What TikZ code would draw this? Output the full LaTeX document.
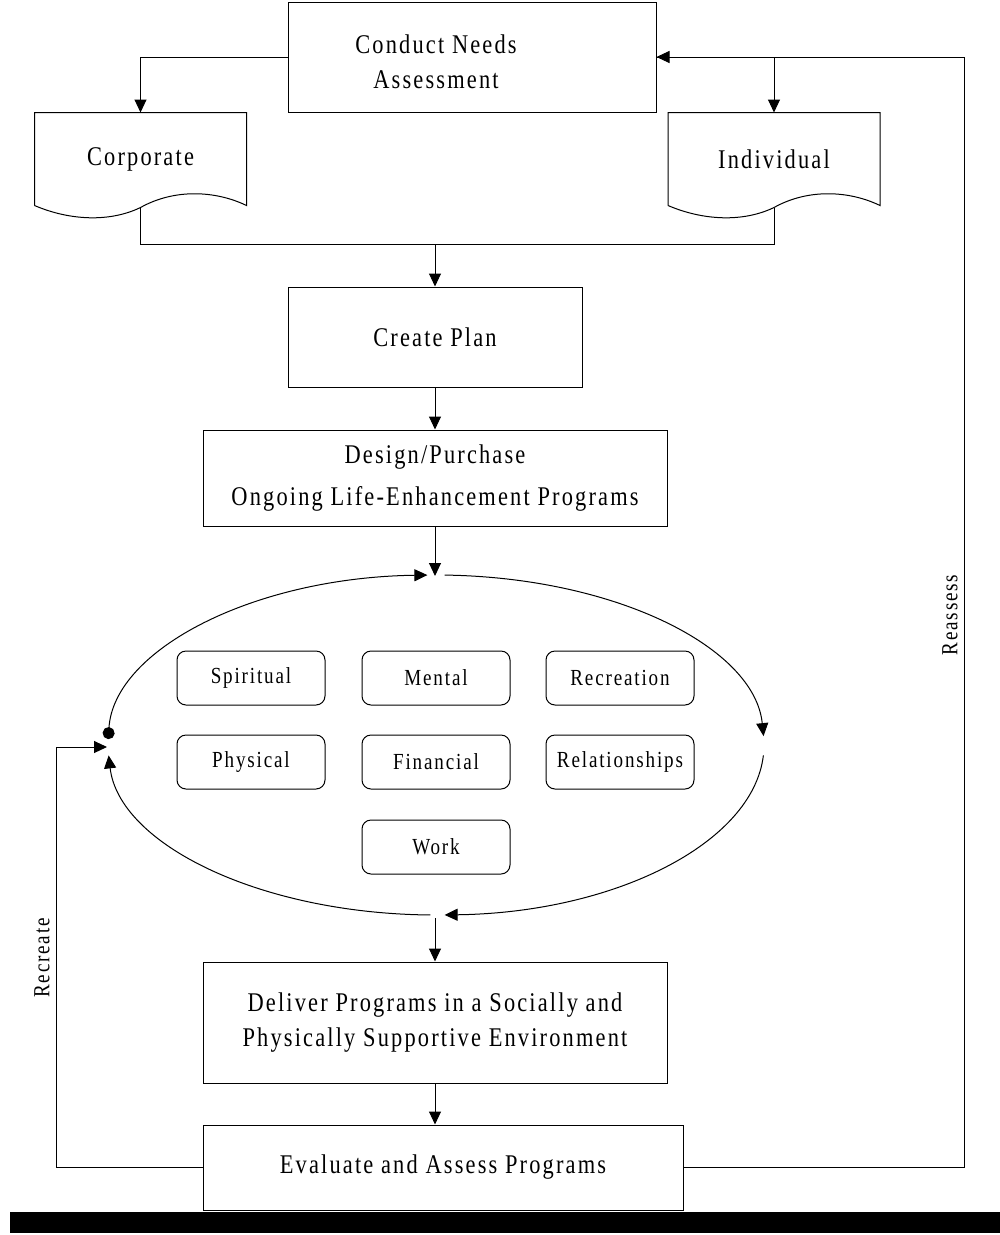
\documentclass[tikz,border=0pt]{standalone}
\usepackage{fontspec}
\setmainfont{Liberation Serif}[FakeStretch=0.83,LetterSpace=8]
\usetikzlibrary{arrows.meta,calc}

\tikzset{
  >={Triangle[length=13pt,width=12pt]},
  stagebox/.style={draw, rectangle, align=center, inner sep=0pt},
  areabox/.style={draw, rounded corners=9pt, minimum width=148pt, minimum height=54pt, inner sep=0pt, font=\fontsize{23}{28}\selectfont},
  docbox/.style={minimum width=211pt, minimum height=92pt, inner sep=0pt},
  sidelabel/.style={rotate=90, font=\fontsize{23}{28}\selectfont},
  flow/.style={->},
}

% document symbol drawn round a (borderless) node
\newcommand{\docshape}[1]{%
  \draw (#1.south west) -- (#1.north west) -- (#1.north east) -- (#1.south east)
    .. controls +(-31,-15) and +(34,-19) .. ($(#1.south)+(0,2)$)
    .. controls +(-31,15) and +(35,15) .. (#1.south west);}

\begin{document}
\begin{tikzpicture}[x=1pt,y=-1pt,line width=1pt,font=\fontsize{27}{35}\selectfont]
	\useasboundingbox (0,0) rectangle (1000,1235);

	% assessment
	\node[stagebox, minimum width=368pt, minimum height=110pt] (conduct) at (472,57) {};
	\node[align=center, inner sep=0pt] (conducttxt) at (436,62) {Conduct Needs\\Assessment};
	\node[docbox] (corp) at (140.5,159) {Corporate};
	\node[docbox] (indiv) at (774,159) {Individual};
	\docshape{corp}
	\docshape{indiv}
	\coordinate (corpout) at ($(corp.south)+(0,2)$);
	\coordinate (indivout) at ($(indiv.south)+(0,2)$);
	\coordinate (merge) at (435,244);

	\node[stagebox, minimum width=294pt, minimum height=100pt] (plan) at (435,337) {Create Plan};
	\node[stagebox, minimum width=464pt, minimum height=96pt, font=\fontsize{27}{42}\selectfont] (design) at (435,478) {Design/Purchase\\Ongoing Life-Enhancement Programs};

	% program ring
	\coordinate (ring) at (436,745);
	\coordinate (ringtop) at (435,576);
	\coordinate (ringbot) at (435,918);
	\node[areabox] (spiritual) at (251,678) {Spiritual};
	\node[areabox] (mental) at (436,678) {Mental};
	\node[areabox] (recreation) at (620,678) {Recreation};
	\node[areabox] (physical) at (251,762) {Physical};
	\node[areabox] (financial) at (436,762) {Financial};
	\node[areabox] (relations) at (620,762) {Relationships};
	\node[areabox] (work) at (436,847) {Work};

	\node[stagebox, minimum width=464pt, minimum height=121pt] (deliver) at (435,1022.5) {Deliver Programs in a Socially and\\Physically Supportive Environment};
	\node[stagebox, minimum width=480pt, minimum height=85pt] (evaluate) at (443,1167.5) {Evaluate and Assess Programs};

	\coordinate (lcorner) at (56,747);
	\coordinate (dotin) at (107,747);
	\coordinate (rcorner) at (964,57);
	\node[sidelabel] (recreatelabel) at (42,958) {Recreate};
	\node[sidelabel] (reassesslabel) at (950,615) {Reassess};

	% connectors
	\draw[flow] (conduct.west) -| (corp.north);
	\draw[flow] (conduct.east) -| (indiv.north);
	\draw (corpout) |- (indiv.south |- merge) -- (indivout);
	\draw[flow] (merge) -- (plan);
	\draw[flow] (plan) -- (design);
	\draw[flow] (design) -- (ringtop);
	\draw[{Circle[length=12pt]}->] ([shift={(182:328 and 170)}]ring) arc[start angle=182, end angle=268.5, x radius=328, y radius=170];
	\draw[->] ([shift={(271.5:328 and 170)}]ring) arc[start angle=271.5, end angle=357, x radius=328, y radius=170];
	\draw[->] ([shift={(3.5:328 and 170)}]ring) arc[start angle=3.5, end angle=88.5, x radius=328, y radius=170];
	\draw[->] ([shift={(91:328 and 170)}]ring) arc[start angle=91, end angle=176.5, x radius=328, y radius=170];
	\draw[flow] (ringbot) -- (deliver);
	\draw[flow] (deliver.south) -- (deliver.south |- evaluate.north);
	\draw[flow] (evaluate.west) -| (lcorner) -- (dotin);
	\draw[flow] (evaluate.east) -| (rcorner) -- (conduct.east);

	\fill (10,1212) rectangle (1000,1233);
\end{tikzpicture}
\end{document}
